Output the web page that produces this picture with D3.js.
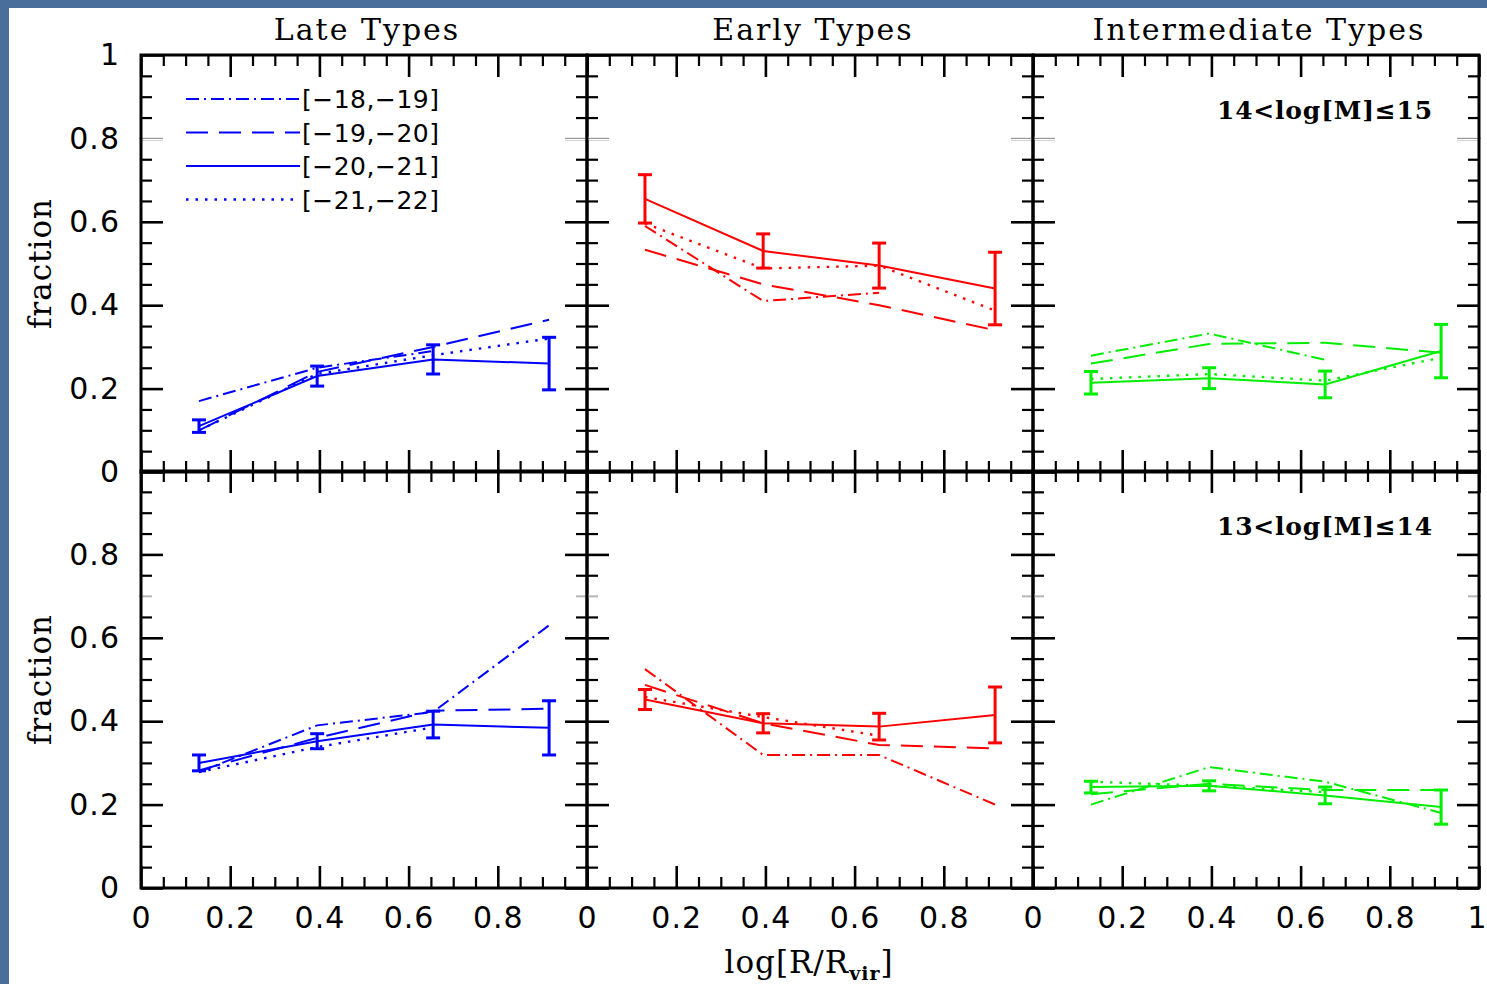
<!DOCTYPE html>
<html>
<head>
<meta charset="utf-8">
<script src="https://cdn.jsdelivr.net/npm/d3@7"></script>
<style>
  html, body { margin: 0; padding: 0; background: #4a6e9c; }
  svg { display: block; }
</style>
</head>
<body>
<svg id="chart" width="1487" height="984"></svg>
<script>
// ---- data ---------------------------------------------------------------
// radial bins, log[R/Rvir]
const radius = [0.13, 0.395, 0.655, 0.915];

const typeTitles = ["Late Types", "Early Types", "Intermediate Types"];
const massBins = ["14<log[M]\u226415", "13<log[M]\u226414"];
const magBins = ["[\u221218,\u221219]", "[\u221219,\u221220]", "[\u221220,\u221221]", "[\u221221,\u221222]"];

const xTicks = [0, 0.2, 0.4, 0.6, 0.8];
const yTicks = [0, 0.2, 0.4, 0.6, 0.8, 1];

// fractions, one row per magnitude bin: [-18,-19], [-19,-20], [-20,-21], [-21,-22]
const lateHigh = [
  [0.17, 0.25, 0.29, null],
  [0.10, 0.24, 0.30, 0.365],
  [0.11, 0.23, 0.27, 0.26],
  [0.10, 0.235, 0.28, 0.32]
];
const lateHighErr = [0.015, 0.024, 0.035, 0.063];

const earlyHigh = [
  [0.59, 0.41, 0.43, null],
  [0.533, 0.45, 0.40, 0.34],
  [0.655, 0.53, 0.495, 0.44],
  [0.596, 0.488, 0.495, 0.387]
];
const earlyHighErr = [0.058, 0.041, 0.054, 0.087];

const interHigh = [
  [0.279, 0.332, 0.269, null],
  [0.26, 0.307, 0.31, 0.286],
  [0.214, 0.225, 0.21, 0.29],
  [0.223, 0.235, 0.219, 0.274]
];
const interHighErr = [0.027, 0.025, 0.032, 0.064];

const lateLow = [
  [0.278, 0.39, 0.422, 0.63],
  [0.282, 0.36, 0.425, 0.43],
  [0.30, 0.352, 0.392, 0.384],
  [0.278, 0.338, 0.385, null]
];
const lateLowErr = [0.019, 0.018, 0.032, 0.065];

const earlyLow = [
  [0.525, 0.319, 0.319, 0.20],
  [0.487, 0.395, 0.343, 0.335],
  [0.452, 0.395, 0.387, 0.415],
  [0.458, 0.41, 0.365, null]
];
const earlyLowErr = [0.024, 0.023, 0.032, 0.067];

const interLow = [
  [0.20, 0.29, 0.255, 0.18],
  [0.225, 0.25, 0.235, 0.235],
  [0.242, 0.245, 0.222, 0.194],
  [0.255, 0.245, 0.23, null]
];
const interLowErr = [0.014, 0.012, 0.02, 0.041];

// ---- layout & style -----------------------------------------------------
const panelsData = [
  [lateHigh, earlyHigh, interHigh],
  [lateLow, earlyLow, interLow]
];
const panelsErr = [
  [lateHighErr, earlyHighErr, interHighErr],
  [lateLowErr, earlyLowErr, interLowErr]
];
const typeColors = ["#0000ff", "#ff0000", "#00ee00"];
const dashes = ["13,5,2,5", "22,11", null, "2.5,7"];
const solidIndex = 2;

const colLeft = [141, 587, 1033];
const colWidth = 446;
const rowTop = [55, 471];
const rowHeight = 417;

const numFont = "'DejaVu Sans', sans-serif";
const textFont = "'DejaVu Serif', serif";

const svg = d3.select("#chart");

// slide background with white plotting sheet
svg.append("rect").attr("width", 1487).attr("height", 984).attr("fill", "#4a6e9c");
svg.append("rect").attr("x", 9).attr("y", 8).attr("width", 1478).attr("height", 976).attr("fill", "#ffffff");

const majorSize = 22, minorSize = 11;
const allMinor = d3.range(0, 21).map(i => i * 0.05).filter(v => Math.abs(v * 5 - Math.round(v * 5)) > 1e-6);

function styleAxis(g, width) {
  g.select(".domain").remove();
  g.selectAll(".tick line").attr("stroke", "#000").attr("stroke-width", width);
}

for (let r = 0; r < 2; r++) {
  for (let c = 0; c < 3; c++) {
    const x0 = colLeft[c], y0 = rowTop[r];
    const x = d3.scaleLinear().domain([0, 1]).range([x0, x0 + colWidth]);
    const y = d3.scaleLinear().domain([0, 1]).range([y0 + rowHeight, y0]);
    const g = svg.append("g");

    // inward ticks on all four sides
    const sides = [
      [d3.axisBottom(x), `translate(0,${y0 + rowHeight})`],
      [d3.axisTop(x), `translate(0,${y0})`],
      [d3.axisLeft(y), `translate(${x0},0)`],
      [d3.axisRight(y), `translate(${x0 + colWidth},0)`]
    ];
    sides.forEach(([axisGen, tr]) => {
      const gm = g.append("g").attr("transform", tr)
        .call(axisGen.tickValues(yTicks).tickSizeInner(-majorSize).tickSizeOuter(0).tickFormat(""));
      styleAxis(gm, 2.6);
      const gn = g.append("g").attr("transform", tr)
        .call(axisGen.tickValues(allMinor).tickSizeInner(-minorSize).tickSizeOuter(0).tickFormat(""));
      styleAxis(gn, 2.2);
    });
    // thin grey rendering of one tick per row
    const faint = r === 0 ? 0.8 : 0.7;
    const fl = r === 0 ? majorSize : minorSize;
    g.selectAll("line.faint").data([[x0, x0 + fl], [x0 + colWidth - fl, x0 + colWidth]])
      .join("line").attr("class", "faint")
      .attr("x1", d => d[0]).attr("x2", d => d[1])
      .attr("y1", y(faint)).attr("y2", y(faint))
      .attr("stroke", "#fff").attr("stroke-width", 3.5);
    g.selectAll("line.faint2").data([[x0 - 2, x0 + fl], [x0 + colWidth - fl, x0 + colWidth + 2]])
      .join("line").attr("class", "faint2")
      .attr("x1", d => d[0]).attr("x2", d => d[1])
      .attr("y1", y(faint)).attr("y2", y(faint))
      .attr("stroke", "#9a9a9a").attr("stroke-width", 1.2);

    // frame
    g.append("rect").attr("x", x0).attr("y", y0).attr("width", colWidth).attr("height", rowHeight)
      .attr("fill", "none").attr("stroke", "#000").attr("stroke-width", 3);

    // tick labels
    if (r === 1) {
      const lab = c === 2 ? xTicks.concat([1]) : xTicks;
      const ax = g.append("g").attr("transform", `translate(0,${y0 + rowHeight})`)
        .call(d3.axisBottom(x).tickValues(lab).tickSize(0).tickPadding(19).tickFormat(d3.format("")));
      ax.select(".domain").remove();
      ax.selectAll("text").attr("font-family", numFont).attr("font-size", 30).attr("fill", "#000").attr("letter-spacing", 1);
      // the last label sits against the page edge
      ax.selectAll("text").filter(d => d === 1).attr("text-anchor", "end").attr("x", 1486 - x(1)).attr("letter-spacing", 0);
    }
    if (c === 0) {
      const lab = r === 0 ? yTicks : yTicks.slice(0, 5);
      const ay = g.append("g").attr("transform", `translate(${x0},0)`)
        .call(d3.axisLeft(y).tickValues(lab).tickSize(0).tickPadding(21).tickFormat(d3.format("")));
      ay.select(".domain").remove();
      ay.selectAll("text").attr("font-family", numFont).attr("font-size", 30).attr("fill", "#000").attr("letter-spacing", 1);
    }

    // data lines
    const series = panelsData[r][c];
    const line = d3.line().defined(d => d[1] != null).x(d => x(d[0])).y(d => y(d[1]));
    series.forEach((vals, i) => {
      g.append("path")
        .attr("d", line(radius.map((rv, k) => [rv, vals[k]])))
        .attr("fill", "none")
        .attr("stroke", typeColors[c])
        .attr("stroke-width", i === 3 ? 2.4 : 2)
        .attr("stroke-dasharray", dashes[i]);
    });

    // error bars on the [-20,-21] bin
    const errs = panelsErr[r][c];
    const eb = g.append("g").attr("stroke", typeColors[c]).attr("stroke-width", 3);
    radius.forEach((rv, k) => {
      const v = series[solidIndex][k], e = errs[k];
      const cx = x(rv);
      eb.append("line").attr("x1", cx).attr("x2", cx).attr("y1", y(v - e)).attr("y2", y(v + e));
      eb.append("line").attr("x1", cx - 7).attr("x2", cx + 7).attr("y1", y(v - e)).attr("y2", y(v - e));
      eb.append("line").attr("x1", cx - 7).attr("x2", cx + 7).attr("y1", y(v + e)).attr("y2", y(v + e));
    });

    // mass label on the right column
    if (c === 2) {
      g.append("text")
        .attr("x", x0 + colWidth - 46)
        .attr("y", y0 + 64)
        .attr("text-anchor", "end")
        .attr("font-family", textFont)
        .attr("font-size", 25)
        .attr("font-weight", "bold")
        .attr("letter-spacing", 0.8)
        .text(massBins[r]);
    }

    // panel titles
    if (r === 0) {
      svg.append("text")
        .attr("x", x0 + colWidth / 2 + 3)
        .attr("y", 40)
        .attr("text-anchor", "middle")
        .attr("font-family", textFont)
        .attr("font-size", 30)
        .attr("letter-spacing", 2)
        .text(typeTitles[c]);
    }
  }
  // y axis title
  svg.append("text")
    .attr("transform", `translate(51,${rowTop[r] + rowHeight / 2}) rotate(-90)`)
    .attr("text-anchor", "middle")
    .attr("font-family", textFont)
    .attr("font-size", 31)
    .attr("letter-spacing", 1)
    .text("fraction");
}

// legend in the upper-left panel
const legend = svg.append("g");
magBins.forEach((lab, i) => {
  const ly = 99 + i * 33.5;
  legend.append("line")
    .attr("x1", 186).attr("x2", 300).attr("y1", ly).attr("y2", ly)
    .attr("stroke", typeColors[0])
    .attr("stroke-width", i === 3 ? 2.4 : 2)
    .attr("stroke-dasharray", dashes[i]);
  legend.append("text")
    .attr("x", 302).attr("y", ly + 9)
    .attr("font-family", numFont)
    .attr("font-size", 25)
    .attr("letter-spacing", 0.5)
    .text(lab);
});

// x axis title
const xt = svg.append("text")
  .attr("x", 809).attr("y", 973)
  .attr("text-anchor", "middle")
  .attr("font-family", textFont)
  .attr("font-size", 31)
  .attr("letter-spacing", 1);
xt.append("tspan").text("log[R/R");
xt.append("tspan").attr("font-size", 19).attr("font-weight", "bold").attr("dy", 7).text("vir");
xt.append("tspan").attr("dy", -7).text("]");
</script>
</body>
</html>
